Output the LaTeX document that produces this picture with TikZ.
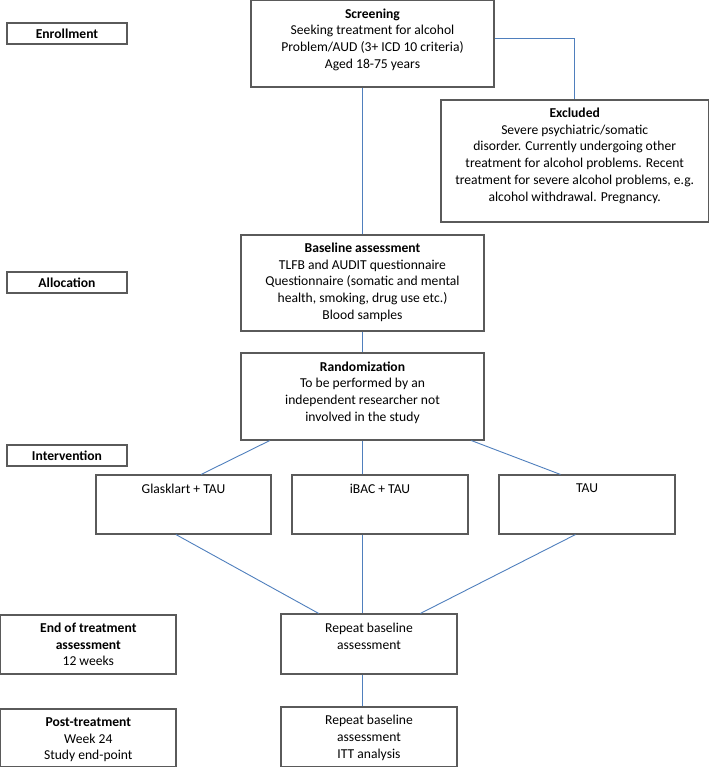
\documentclass[tikz,border=0pt]{standalone}
\usepackage{fontspec}
\setmainfont{Carlito}
\usetikzlibrary{calc}
\definecolor{boxgray}{HTML}{5A5A5A}
\definecolor{linkblue}{HTML}{4F7FBD}

\begin{document}
\begin{tikzpicture}[x=1pt,y=-1pt,
  font=\fontsize{13.6}{16.7}\selectfont,
  box/.style={draw=boxgray, line width=1.1pt, fill=white},
  stage/.style={box, minimum width=120pt, minimum height=21pt, inner sep=0pt, font=\fontsize{13.6}{16.7}\selectfont\bfseries},
  tbox/.style n args={3}{box, inner sep=0pt,
    execute at begin node={\begin{minipage}[c][#2pt][t]{#1pt}\centering\vspace*{#3pt}},
    execute at end node={\end{minipage}}},
  link/.style={draw=linkblue, line width=0.9pt}]
\useasboundingbox (0,0) rectangle (709,767);
% stages on the left
\node[stage] (enroll) at (67,33.5) {Enrollment};
\node[stage] (alloc) at (67,282.5) {Allocation};
\node[stage] (interv) at (67,455.5) {Intervention};
\node[tbox={175.4}{59}{8}] (endt) at (88.3,644.5) {\textbf{End of treatment}\\\textbf{assessment}\\12 weeks};
\node[tbox={175.4}{57.4}{8.5}] (post) at (88.3,737.7) {\textbf{Post-treatment}\\Week 24\\Study end-point};
% main column
\node[tbox={243}{86.4}{8}] (screen) at (372.5,43.8) {\textbf{Screening}\\Seeking treatment for alcohol\\Problem/AUD (3+ ICD 10 criteria)\\Aged 18-75 years};
\node[tbox={267.4}{122}{8}] (excl) at (574.7,161) {\textbf{Excluded}\\Severe psychiatric/somatic\\disorder. Currently undergoing other\\treatment for alcohol problems. Recent\\treatment for severe alcohol problems, e.g.\\alcohol withdrawal. Pregnancy.};
\node[tbox={243}{96}{8}] (base) at (362.5,283) {\textbf{Baseline assessment}\\TLFB and AUDIT questionnaire\\Questionnaire (somatic and mental\\health, smoking, drug use etc.)\\Blood samples};
\node[tbox={243}{87}{8.5}] (rand) at (362.5,396.5) {\textbf{Randomization}\\To be performed by an\\independent researcher not\\involved in the study};
%     the three arms
\node[tbox={175}{59}{9}] (glas) at (183.5,504.5) {Glasklart + TAU};
\node[tbox={176}{59}{9}] (ibac) at (380,504.5) {iBAC + TAU};
\node[tbox={176}{59}{9}] (tau) at (587,504.5) {TAU};
%     follow-up
\node[tbox={176}{60}{9.5}] (rep) at (369,644) {Repeat baseline\\assessment};
\node[tbox={176}{59.4}{8.5}] (rep2) at (369,736.7) {Repeat baseline\\assessment\\ITT analysis};
% connectors
\draw[link] ([yshift=5pt]screen.east) -| (excl.north);
\draw[link] (base.north) -- (base.north |- screen.south);
\draw[link] (base.south) -- (rand.north);
\draw[link] ($(rand.south west)!0.12!(rand.south east)$) -- ($(glas.north west)!0.6!(glas.north east)$);
\draw[link] (rand.south) -- (rand.south |- ibac.north);
\draw[link] ($(rand.south west)!0.946!(rand.south east)$) -- ($(tau.north west)!0.35!(tau.north east)$);
\draw[link] ($(glas.south west)!0.457!(glas.south east)$) -- ($(rep.north west)!0.216!(rep.north east)$);
\draw[link] (ibac.south -| rand.south) -- (rep.north -| rand.south);
\draw[link] ($(tau.south west)!0.435!(tau.south east)$) -- ($(rep.north west)!0.79!(rep.north east)$);
\draw[link] (rep.south -| rand.south) -- (rep2.north -| rand.south);
\end{tikzpicture}
\end{document}
